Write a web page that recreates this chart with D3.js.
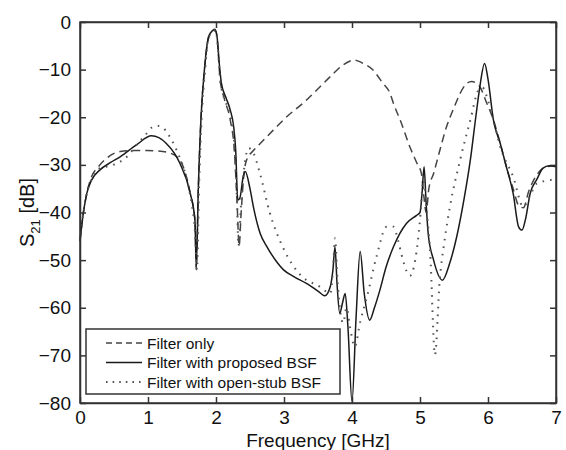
<!DOCTYPE html>
<html>
<head>
<meta charset="utf-8">
<script src="https://cdn.jsdelivr.net/npm/d3@7"></script>
<style>
  body { margin: 0; background: #fff; }
  svg { font-family: "Liberation Sans", Arial, sans-serif; }
</style>
</head>
<body>
<div id="chart"></div>
<script>
// S21 de tres filtros
const freqOnly = [0, 0.05, 0.1, 0.17, 0.27, 0.4, 0.59, 0.8, 0.98, 1.15, 1.32, 1.47, 1.62, 1.69, 1.71, 1.74, 1.78, 1.83, 1.89, 1.95, 1.99, 2.02, 2.06, 2.12, 2.21, 2.27, 2.31, 2.34, 2.37, 2.41, 2.45, 2.55, 2.65, 2.85, 3.04, 3.3, 3.53, 3.7, 3.87, 4.04, 4.15, 4.31, 4.45, 4.56, 4.61, 4.72, 4.85, 4.95, 5.02, 5.06, 5.09, 5.13, 5.2, 5.3, 5.39, 5.5, 5.59, 5.68, 5.76, 5.84, 5.88, 5.98, 6.08, 6.18, 6.27, 6.37, 6.45, 6.52, 6.6, 6.7, 6.8, 6.9, 7.0];
const s21Only = [-46, -40, -36, -32.5, -30.4, -28.5, -27.2, -27, -27, -27.1, -27.5, -29, -35.9, -41.6, -52, -35, -20, -10, -3.5, -2, -1.8, -4, -12, -16, -20.6, -27, -38, -47, -40, -32, -29, -27, -25.5, -22.6, -19.9, -16.8, -13.6, -11.2, -9, -8, -8.6, -10.1, -12.8, -15, -17.1, -21, -26.2, -29.5, -31.8, -37, -40, -35, -31.8, -26.5, -22, -18, -15, -13, -12.5, -13, -13.6, -17, -20.6, -25.5, -30.4, -35, -38.5, -39, -35.5, -32.5, -30.8, -30.3, -30.2];

const freqProposed = [0, 0.05, 0.1, 0.17, 0.29, 0.45, 0.59, 0.83, 1.05, 1.27, 1.47, 1.62, 1.69, 1.71, 1.74, 1.78, 1.83, 1.89, 1.95, 1.98, 2.01, 2.05, 2.08, 2.15, 2.21, 2.26, 2.29, 2.32, 2.35, 2.4, 2.43, 2.5, 2.55, 2.65, 2.75, 2.9, 2.99, 3.15, 3.33, 3.5, 3.6, 3.68, 3.72, 3.75, 3.78, 3.82, 3.86, 3.9, 3.94, 4.0, 4.06, 4.12, 4.18, 4.26, 4.33, 4.41, 4.5, 4.61, 4.8, 4.95, 5.0, 5.03, 5.06, 5.09, 5.12, 5.2, 5.33, 5.44, 5.54, 5.65, 5.74, 5.82, 5.88, 5.95, 6.0, 6.08, 6.18, 6.27, 6.37, 6.45, 6.5, 6.55, 6.62, 6.72, 6.81, 6.9, 7.0];
const s21Proposed = [-46, -40, -36, -33.2, -31.1, -29.5, -28.3, -25.8, -23.9, -25.5, -29.7, -35.9, -41.6, -51.4, -35, -20, -10, -3.1, -1.8, -1.5, -2.5, -9, -12.9, -16, -18.5, -22, -27, -37.4, -37, -32.5, -31.4, -35, -38.8, -44.4, -47.2, -50.5, -52, -53.5, -54.9, -56.5, -57.5, -55.6, -52, -47.2, -55, -61.2, -59, -57, -64, -79.7, -62, -48.2, -57, -62.6, -60, -56.3, -51.5, -47.2, -42.3, -40.6, -40, -36, -30.4, -38, -44.4, -50, -54.2, -50.5, -45.1, -37, -29, -20, -13.6, -8.7, -12, -20.6, -25.5, -30.4, -36, -43, -43.7, -41.5, -36, -33, -30.7, -30.2, -30.4];

const freqStub = [0, 0.05, 0.1, 0.17, 0.25, 0.49, 0.69, 0.85, 0.98, 1.05, 1.13, 1.22, 1.29, 1.42, 1.55, 1.64, 1.69, 1.72, 1.75, 1.79, 1.84, 1.89, 1.95, 1.99, 2.02, 2.06, 2.12, 2.21, 2.27, 2.31, 2.33, 2.37, 2.42, 2.48, 2.55, 2.65, 2.79, 2.99, 3.24, 3.53, 3.68, 3.72, 3.75, 3.79, 3.87, 3.92, 3.97, 4.04, 4.12, 4.22, 4.36, 4.51, 4.61, 4.68, 4.75, 4.85, 4.93, 5.0, 5.05, 5.1, 5.15, 5.22, 5.29, 5.36, 5.44, 5.59, 5.74, 5.86, 5.92, 6.0, 6.08, 6.18, 6.37, 6.52, 6.6, 6.72, 6.91, 7.0];
const s21Stub = [-46, -40, -36, -33, -31, -30, -28.3, -25.5, -23.4, -22.2, -21.8, -22.2, -23.4, -26.9, -32, -38, -44, -52, -35, -20, -10, -3.3, -2, -1.7, -4, -12, -16, -19.5, -26, -38, -47, -38, -30, -26.5, -27.5, -32, -40, -47.5, -53.1, -55.6, -57, -52, -45.4, -55, -63.2, -60, -64, -68.2, -63, -57.7, -49.3, -43, -43, -46, -50, -53.3, -50, -41.6, -33.2, -40, -48.6, -69.9, -54.2, -46, -38.8, -29, -20.6, -14.3, -13.8, -16.5, -20.6, -26.2, -32.5, -38.8, -37, -33.9, -33.2, -33];

const xTicks = [0, 1, 2, 3, 4, 5, 6, 7];
const yTicks = [0, -10, -20, -30, -40, -50, -60, -70, -80];
const legendLabels = ["Filter only", "Filter with proposed BSF", "Filter with open-stub BSF"];

const WIDTH = 566;
const HEIGHT = 450;
const margin = { top: 22, right: 10, bottom: 47, left: 80 };
const innerW = WIDTH - margin.left - margin.right;
const innerH = HEIGHT - margin.top - margin.bottom;

const svg = d3.select("#chart").append("svg")
    .attr("width", WIDTH)
    .attr("height", HEIGHT);

const g = svg.append("g")
    .attr("transform", `translate(${margin.left},${margin.top})`);

const x = d3.scaleLinear().domain([0, 7]).range([0, innerW]);
const y = d3.scaleLinear().domain([-80, 0]).range([innerH, 0]);

// estilos de cada serie
const series = [
    { f: freqOnly, v: s21Only, stroke: "#444", width: 1.5, dash: "8,5" },
    { f: freqProposed, v: s21Proposed, stroke: "#1a1a1a", width: 1.5, dash: null },
    { f: freqStub, v: s21Stub, stroke: "#555", width: 2, dash: "1.6,6" }
];

const line = d3.line()
    .x(d => x(d[0]))
    .y(d => y(d[1]))
    .curve(d3.curveMonotoneX);

const plot = g.append("g");
series.forEach(s => {
    plot.append("path")
        .datum(s.f.map((f, i) => [f, s.v[i]]))
        .attr("fill", "none")
        .attr("stroke", s.stroke)
        .attr("stroke-width", s.width)
        .attr("stroke-dasharray", s.dash)
        .attr("d", line);
});

// ejes con ticks hacia adentro
const tickLen = 6;
const fmt = d3.format("d");
g.append("g")
    .attr("transform", `translate(0,${innerH})`)
    .call(d3.axisBottom(x).tickValues(xTicks).tickFormat(fmt).tickSizeInner(-tickLen).tickSizeOuter(0).tickPadding(8));
g.append("g")
    .call(d3.axisLeft(y).tickValues(yTicks).tickFormat(fmt).tickSizeInner(-tickLen).tickSizeOuter(0).tickPadding(9));
g.append("g")
    .call(d3.axisTop(x).tickValues(xTicks).tickSizeInner(-tickLen).tickSizeOuter(0).tickFormat(""));
g.append("g")
    .attr("transform", `translate(${innerW},0)`)
    .call(d3.axisRight(y).tickValues(yTicks).tickSizeInner(-tickLen).tickSizeOuter(0).tickFormat(""));

g.selectAll(".domain").attr("stroke", "#333").attr("stroke-width", 1.5);
g.selectAll(".tick line").attr("stroke", "#333").attr("stroke-width", 1.5);
g.selectAll(".tick text")
    .attr("fill", "#111")
    .style("font-size", "19px")
    .style("font-family", "Liberation Sans, Arial, sans-serif");

// borde del area
g.append("rect")
    .attr("width", innerW)
    .attr("height", innerH)
    .attr("fill", "none")
    .attr("stroke", "#333")
    .attr("stroke-width", 1.5);

// titulos
svg.append("text")
    .attr("x", margin.left + innerW / 2)
    .attr("y", 447)
    .attr("text-anchor", "middle")
    .attr("fill", "#111")
    .style("font-size", "19px")
    .text("Frequency [GHz]");

const yLab = svg.append("text")
    .attr("transform", `translate(34,${margin.top + innerH / 2}) rotate(-90)`)
    .attr("text-anchor", "middle")
    .attr("fill", "#111")
    .style("font-size", "20px");
yLab.append("tspan").text("S");
yLab.append("tspan").attr("dy", 6).style("font-size", "13px").text("21");
yLab.append("tspan").attr("dy", -6).text(" [dB]");

// leyenda
const legend = svg.append("g").attr("transform", "translate(86,329)");
legend.append("rect")
    .attr("width", 254)
    .attr("height", 65)
    .attr("fill", "#fff")
    .attr("stroke", "#333")
    .attr("stroke-width", 1.5);

const legendDash = ["6,4", null, "1.6,5"];
legendLabels.forEach((lab, i) => {
    const yy = 14 + i * 19.5;
    legend.append("line")
        .attr("x1", 20).attr("x2", 56)
        .attr("y1", yy).attr("y2", yy)
        .attr("stroke", series[i].stroke)
        .attr("stroke-width", series[i].width)
        .attr("stroke-dasharray", legendDash[i]);
    legend.append("text")
        .attr("x", 61)
        .attr("y", yy + 5.5)
        .attr("fill", "#111")
        .style("font-size", "15.5px")
        .text(lab);
});
</script>
</body>
</html>
